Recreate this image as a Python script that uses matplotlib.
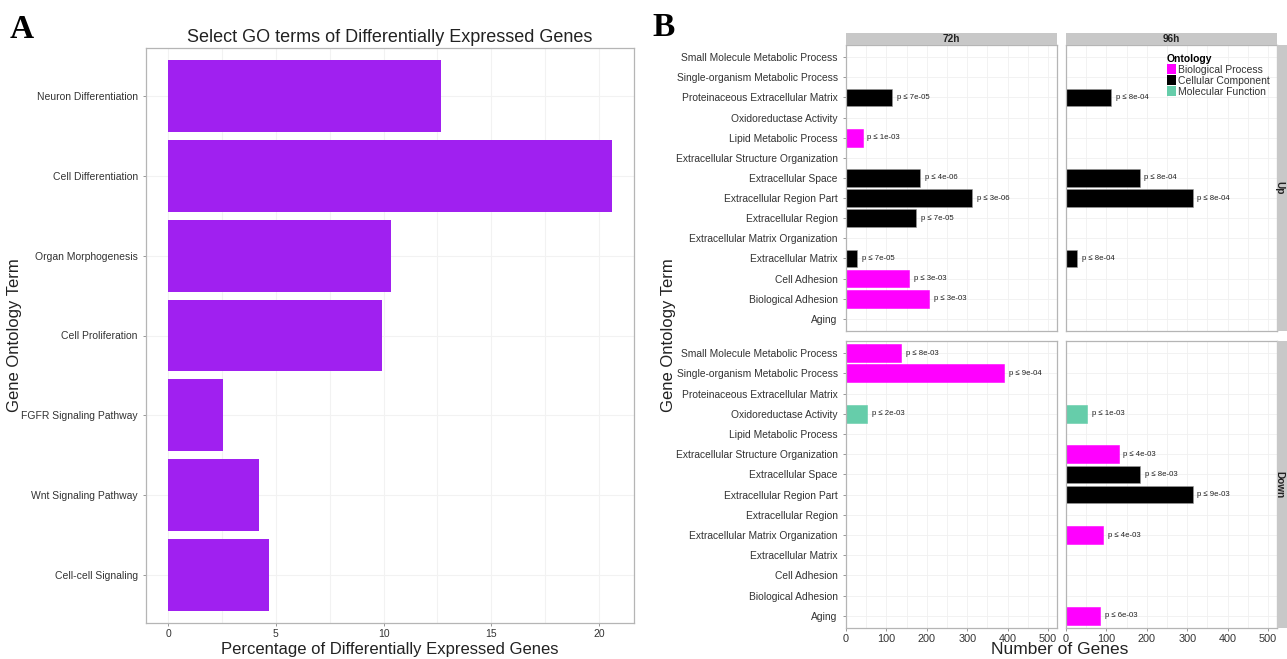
import matplotlib
matplotlib.use("Agg")
import matplotlib.pyplot as plt
from matplotlib.patches import Patch, Rectangle
import numpy as np

plt.rcParams['font.family'] = ['Liberation Sans', 'DejaVu Sans']

# ---------------- Panel A data ----------------
a_terms = ["Neuron Differentiation", "Cell Differentiation", "Organ Morphogenesis",
           "Cell Proliferation", "FGFR Signaling Pathway", "Wnt Signaling Pathway",
           "Cell-cell Signaling"]
a_pct = [12.65, 20.6, 10.35, 9.95, 2.55, 4.2, 4.7]

# ---------------- Panel B data ----------------
b_terms = ["Small Molecule Metabolic Process", "Single-organism Metabolic Process",
           "Proteinaceous Extracellular Matrix", "Oxidoreductase Activity",
           "Lipid Metabolic Process", "Extracellular Structure Organization",
           "Extracellular Space", "Extracellular Region Part", "Extracellular Region",
           "Extracellular Matrix Organization", "Extracellular Matrix", "Cell Adhesion",
           "Biological Adhesion", "Aging"]
b_onto = ["BP", "BP", "CC", "MF", "BP", "BP", "CC", "CC", "CC", "BP", "CC", "BP", "BP", "BP"]

up_72 = [0, 0, 113, 0, 41, 0, 183, 312, 174, 0, 27, 155, 205, 0]
up_72_p = ["", "", "7e-05", "", "1e-03", "", "4e-06", "3e-06", "7e-05", "", "7e-05", "3e-03", "3e-03", ""]
up_96 = [0, 0, 112, 0, 0, 0, 182, 313, 0, 0, 27, 0, 0, 0]
up_96_p = ["", "", "8e-04", "", "", "", "8e-04", "8e-04", "", "", "8e-04", "", "", ""]
down_72 = [136, 391, 0, 53, 0, 0, 0, 0, 0, 0, 0, 0, 0, 0]
down_72_p = ["8e-03", "9e-04", "", "2e-03", "", "", "", "", "", "", "", "", "", ""]
down_96 = [0, 0, 0, 52, 0, 130, 183, 313, 0, 91, 0, 0, 0, 85]
down_96_p = ["", "", "", "1e-03", "", "4e-03", "8e-03", "9e-03", "", "4e-03", "", "", "", "6e-03"]

onto_names = {"BP": "Biological Process", "CC": "Cellular Component", "MF": "Molecular Function"}
onto_colors = {"BP": "#FF00FF", "CC": "#000000", "MF": "#66CDAA"}

W, H = 1287, 659
fig = plt.figure(figsize=(W / 100, H / 100), dpi=100)


def ax_px(l, t, r, b):
    return fig.add_axes([l / W, 1 - b / H, (r - l) / W, (b - t) / H])


GRID = "#F0F0F0"
SPINE = "#B5B5B5"
TICKC = "#333333"


def style(ax):
    for s in ax.spines.values():
        s.set_color(SPINE)
        s.set_linewidth(0.9)
    ax.set_facecolor("white")
    ax.tick_params(length=2.5, width=0.6, color="#888888", labelcolor=TICKC)
    ax.set_axisbelow(True)


# ---------------- Panel A ----------------
axA = ax_px(146, 48, 634, 623)
style(axA)
ya = np.arange(len(a_terms))[::-1] + 1
axA.barh(ya, a_pct, height=0.9, color="#A020F0")
axA.set_xlim(-1.03, 21.63)
axA.set_ylim(0.4, len(a_terms) + 0.6)
axA.set_yticks(ya)
axA.set_yticklabels(a_terms, fontsize=7.5)
axA.set_xticks([0, 5, 10, 15, 20])
axA.set_xticks([2.5, 7.5, 12.5, 17.5], minor=True)
axA.tick_params(axis='x', labelsize=7.5, pad=2)
axA.tick_params(axis='x', which='minor', length=0)
axA.grid(True, which='both', axis='x', color="#F2F2F2", lw=0.8)
axA.grid(True, which='major', axis='y', color="#F2F2F2", lw=0.8)
axA.set_xlabel("Percentage of Differentially Expressed Genes", fontsize=12, color="#222222", labelpad=2)
axA.set_title("Select GO terms of Differentially Expressed Genes", fontsize=13, color="#222222", pad=4)
fig.text(15 / W, 1 - 335 / H, "Gene Ontology Term", fontsize=12, ha='center', va='center',
         rotation=90, color="#222222")
fig.text(10 / W, 1 - 30 / H, "A", fontsize=24, fontweight='bold', family='Liberation Serif',
         va='center', ha='left')

# ---------------- Panel B ----------------
fig.text(652 / W, 1 - 28 / H, "B", fontsize=24, fontweight='bold', family='Liberation Serif',
         va='center', ha='left')

yb = np.arange(len(b_terms))[::-1] + 1
colors = [onto_colors[o] for o in b_onto]

panels = [
    ((846, 45, 1057, 331), up_72, up_72_p, True, False),
    ((1066, 45, 1277, 331), up_96, up_96_p, False, False),
    ((846, 341, 1057, 628), down_72, down_72_p, True, True),
    ((1066, 341, 1277, 628), down_96, down_96_p, False, True),
]
axes_b = []
for box, vals, pl, show_y, show_x in panels:
    ax = ax_px(*box)
    style(ax)
    for y, v, c, p in zip(yb, vals, colors, pl):
        if v > 0:
            ax.barh(y, v, height=0.88, color=c, edgecolor="#9A9A9A" if c == "#000000" else c, lw=0.4)
            ax.text(v + 12, y, "p \u2264 " + p, fontsize=5.6, va='center', ha='left', color="#222222")
    ax.set_xlim(0, 522)
    ax.set_ylim(0.4, len(b_terms) + 0.6)
    ax.set_yticks(yb)
    ax.set_xticks([0, 100, 200, 300, 400, 500])
    ax.set_xticks([50, 150, 250, 350, 450], minor=True)
    ax.tick_params(axis='x', which='minor', length=0)
    ax.grid(True, which='both', axis='x', color=GRID, lw=0.6)
    ax.grid(True, which='major', axis='y', color=GRID, lw=0.6)
    if show_y:
        ax.set_yticklabels(b_terms, fontsize=7.4)
    else:
        ax.tick_params(axis='y', left=False, labelleft=False)
    if show_x:
        ax.tick_params(axis='x', labelsize=7.8, pad=2)
    else:
        ax.tick_params(axis='x', bottom=False, labelbottom=False)
    axes_b.append(ax)

# strips
for (l, r), lab in [((846, 1057), "72h"), ((1066, 1277), "96h")]:
    sa = ax_px(l, 33, r, 45)
    sa.set_axis_off()
    sa.add_patch(Rectangle((0, 0), 1, 1, transform=sa.transAxes, color="#C8C8C8", lw=0))
    sa.text(0.5, 0.5, lab, transform=sa.transAxes, ha='center', va='center', fontsize=7.2,
            fontweight='bold', color="#222222")
for (t, b), lab in [((45, 331), "Up"), ((341, 628), "Down")]:
    sa = ax_px(1277, t, 1295, b)
    sa.set_axis_off()
    sa.add_patch(Rectangle((0, 0), 1, 1, transform=sa.transAxes, color="#C8C8C8", lw=0))
    sa.text(0.12, 0.5, lab, transform=sa.transAxes, ha='center', va='center', fontsize=7.2,
            fontweight='bold', color="#222222", rotation=-90)

# legend
handles = [Patch(facecolor=onto_colors[k], edgecolor='none', label=onto_names[k]) for k in ["BP", "CC", "MF"]]
leg = axes_b[1].legend(handles=handles, title="Ontology", loc='upper right', bbox_to_anchor=(1.0, 0.995),
                       frameon=False, fontsize=7.5, title_fontsize=7.5, handlelength=0.9, handleheight=1.1,
                       handletextpad=0.2, labelspacing=0.05, borderaxespad=0.3)
leg.get_title().set_fontweight('bold')
leg._legend_box.align = "left"
for t in leg.get_texts():
    t.set_color("#333333")

fig.text(1060 / W, 1 - 650 / H, "Number of Genes", fontsize=12.5, ha='center', va='center', color="#222222")
fig.text(668 / W, 1 - 335 / H, "Gene Ontology Term", fontsize=12, ha='center', va='center',
         rotation=90, color="#222222")

fig.savefig("out.png", dpi=100, facecolor="white")
